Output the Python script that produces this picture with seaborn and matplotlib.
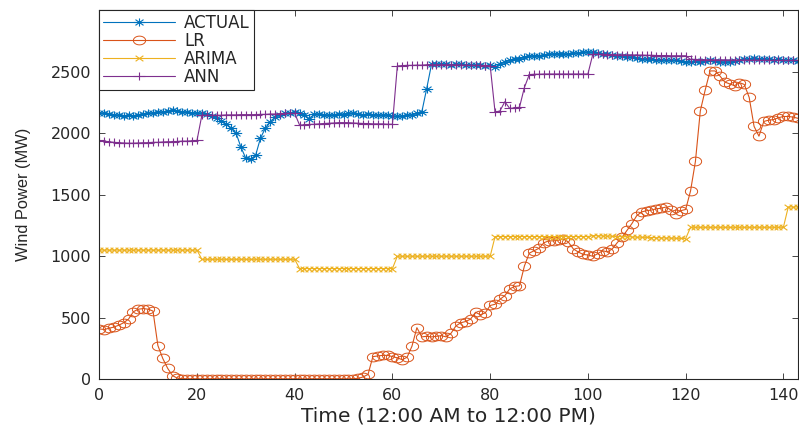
import numpy as np
import pandas as pd
import matplotlib
matplotlib.use("Agg")
import matplotlib.pyplot as plt
from matplotlib.path import Path
import seaborn as sns

# ---- data -------------------------------------------------------------
time_idx = list(range(144))

actual = [2165, 2160, 2155, 2150, 2145, 2140, 2145, 2140, 2150, 2155,
          2160, 2165, 2175, 2170, 2180, 2185, 2180, 2175, 2170, 2165,
          2165, 2160, 2155, 2140, 2120, 2100, 2075, 2040, 2000, 1885,
          1795, 1790, 1820, 1960, 2040, 2090, 2130, 2150, 2160, 2165,
          2170, 2160, 2150, 2115, 2155, 2155, 2150, 2145, 2150, 2155,
          2150, 2160, 2160, 2155, 2150, 2155, 2150, 2150, 2145, 2150,
          2140, 2135, 2140, 2145, 2150, 2160, 2170, 2360, 2560, 2560,
          2565, 2560, 2555, 2560, 2560, 2555, 2555, 2550, 2550, 2545,
          2550, 2535, 2560, 2580, 2590, 2600, 2605, 2615, 2625, 2630,
          2630, 2635, 2640, 2645, 2645, 2640, 2645, 2650, 2650, 2655,
          2660, 2655, 2650, 2645, 2640, 2635, 2630, 2625, 2620, 2615,
          2610, 2605, 2600, 2600, 2595, 2595, 2590, 2590, 2590, 2585,
          2580, 2580, 2585, 2580, 2585, 2590, 2585, 2580, 2575, 2580,
          2585, 2590, 2600, 2605, 2610, 2600, 2605, 2600, 2595, 2600,
          2595, 2590, 2590, 2585]

lr = [410, 405, 415, 425, 440, 460, 490, 550, 570, 575,
      570, 555, 275, 170, 90, 30, 10,
      6, 5, 5, 5, 4, 5, 5, 5, 5, 5,
      5, 5, 5, 4, 5, 5, 5, 5, 5, 5,
      5, 5, 5, 5, 5, 4, 5, 5, 5, 5,
      5, 5, 5, 5, 5, 6, 8,
      20, 40, 185, 190, 195, 195, 185, 175, 160, 180,
      270, 420, 345,
      350, 345, 350, 355, 345, 375, 435, 460, 470, 490,
      545, 525, 540, 600, 610, 650, 680, 735, 755, 760,
      920, 1025, 1045, 1065, 1110, 1125, 1125, 1130, 1140, 1115,
      1060, 1035, 1015, 1010, 1000, 1020, 1045, 1035, 1060, 1110,
      1155, 1210, 1265, 1330, 1360, 1370, 1375, 1385, 1390, 1400,
      1375, 1345, 1370, 1380,
      1530, 1770, 2180, 2350, 2505, 2505, 2465, 2415, 2400, 2385,
      2410, 2395, 2290, 2055, 1975, 2095, 2105, 2110, 2125, 2135,
      2135, 2130, 2120]

arima = [1050, 1050, 1050, 1050, 1050, 1050, 1050, 1050, 1050, 1050,
         1050, 1050, 1050, 1050, 1050, 1050, 1050, 1050, 1050, 1050,
         1050,
         975, 975, 975, 975, 975, 975, 975, 975, 975, 975,
         975, 975, 975, 975, 975, 975, 975, 975, 975, 975,
         900, 900, 900, 900, 900, 900, 900, 900, 900, 900,
         900, 900, 900, 900, 900, 900, 900, 900, 900, 900,
         1000, 1000, 1000, 1000, 1000, 1000, 1000, 1000, 1000, 1000,
         1000, 1000, 1000, 1000, 1000, 1000, 1000, 1000, 1000, 1000,
         1160, 1160, 1160, 1160, 1160, 1160, 1160, 1160, 1160, 1160,
         1160, 1160, 1160, 1160, 1160, 1160, 1160, 1160, 1160, 1160,
         1168, 1166, 1165, 1164, 1162, 1160, 1159, 1158, 1157, 1155,
         1154, 1153, 1152, 1150, 1149, 1148, 1147, 1146, 1145, 1143,
         1235, 1235, 1235, 1235, 1235, 1235, 1235, 1235, 1235, 1235,
         1235, 1235, 1235, 1235, 1235, 1235, 1235, 1235, 1235, 1235,
         1400, 1400, 1400]

ann = [1940, 1935, 1930, 1925, 1922, 1920, 1918, 1918, 1920, 1922,
       1922, 1925, 1925, 1928, 1930, 1930, 1932, 1935, 1935, 1938,
       1940,
       2145, 2145, 2145, 2145, 2145, 2148, 2148, 2148, 2150, 2150,
       2150, 2150, 2152, 2152, 2155, 2155, 2158, 2160, 2160, 2160,
       2065, 2068, 2070, 2072, 2075, 2078, 2080, 2082, 2085, 2085,
       2085, 2082, 2080, 2078, 2078, 2075, 2075, 2075, 2072, 2072,
       2545, 2548, 2550, 2550, 2552, 2552, 2555, 2555, 2555, 2555,
       2555, 2555, 2555, 2552, 2552, 2550, 2550, 2550, 2548, 2548,
       2170, 2180, 2255, 2200, 2205, 2210, 2370, 2475, 2478, 2478,
       2480, 2480, 2480, 2480, 2480, 2480, 2480, 2480, 2480, 2480,
       2640, 2640, 2640, 2638, 2638, 2636, 2636, 2635, 2635, 2634,
       2634, 2632, 2632, 2630, 2630, 2630, 2628, 2628, 2628, 2628,
       2598, 2598, 2596, 2596, 2595, 2595, 2595, 2594, 2594, 2594,
       2593, 2593, 2592, 2592, 2592, 2591, 2591, 2590, 2590, 2590,
       2590, 2590, 2590]

series_names = ["ACTUAL", "LR", "ARIMA", "ANN"]
series_values = [actual, lr, arima, ann]
x_ticks = [0, 20, 40, 60, 80, 100, 120, 140]
y_ticks = [0, 500, 1000, 1500, 2000, 2500]
x_label = "Time (12:00 AM to 12:00 PM)"
y_label = "Wind Power (MW)"

# ---- style ------------------------------------------------------------
sns.set_style("ticks", {
    "axes.edgecolor": "#262626",
    "xtick.direction": "in",
    "ytick.direction": "in",
    "xtick.color": "#262626",
    "ytick.color": "#262626",
})
plt.rcParams["font.family"] = ["DejaVu Sans"]

colors = ["#0072BD", "#D95319", "#EDB120", "#7E2F8E"]

# Horizontally widened marker shapes
SX = 1.4


def stroke_marker(segments):
    verts, codes = [], []
    for a, b in segments:
        verts += [a, b]
        codes += [Path.MOVETO, Path.LINETO]
    return Path(verts, codes)


def ellipse_marker(sx):
    t = np.linspace(0, 2 * np.pi, 73)
    v = np.column_stack([sx * np.cos(t), np.sin(t)])
    return Path(v, closed=True)


d = 0.7071
star_m = stroke_marker([((-SX, 0), (SX, 0)), ((0, -1), (0, 1)),
                        ((-SX * d, -d), (SX * d, d)), ((-SX * d, d), (SX * d, -d))])
circle_m = ellipse_marker(SX)
cross_m = stroke_marker([((-SX, -1), (SX, 1)), ((-SX, 1), (SX, -1))])
plus_m = stroke_marker([((-SX, 0), (SX, 0)), ((0, -1), (0, 1))])

markers = [star_m, circle_m, cross_m, plus_m]
msizes = [8.2, 8.8, 5.6, 8.6]
medges = [0.8, 0.7, 0.8, 0.8]

fig = plt.figure(figsize=(7.99, 4.28), dpi=100)
ax = fig.add_axes([0.1242, 0.1136, 0.8746, 0.8631])

for name, vals, col, mk, ms, mew in zip(series_names, series_values, colors,
                                       markers, msizes, medges):
    df = pd.DataFrame({"t": time_idx, "p": vals})
    sns.lineplot(data=df, x="t", y="p", ax=ax, color=col, linewidth=0.8,
                 marker=mk, markersize=ms, markeredgecolor=col,
                 markerfacecolor="none", markeredgewidth=mew,
                 label=name, sort=False, errorbar=None)

ax.set_xlim(0, 143)
ax.set_ylim(0, 3000)
ax.set_xticks(x_ticks)
ax.set_yticks(y_ticks)
ax.tick_params(axis="both", which="both", direction="in", top=True, right=True,
               length=4.5, width=0.6, labelsize=11.5, pad=6, labelcolor="#262626")
for s in ax.spines.values():
    s.set_linewidth(0.8)
    s.set_color("#262626")

ax.set_xlabel(x_label, fontsize=14.5, color="#262626", labelpad=3)
ax.set_ylabel(y_label, fontsize=11.8, color="#262626", labelpad=14,
              family=["Liberation Sans"])

leg = ax.legend(loc="upper left", bbox_to_anchor=(0, 1), borderaxespad=0,
                frameon=True, fancybox=False, framealpha=1, edgecolor="#262626",
                fontsize=12, handlelength=4.3, handletextpad=0.55,
                borderpad=0.25, labelspacing=0.0, numpoints=1)
leg.get_frame().set_linewidth(0.8)

fig.savefig("out.png", dpi=100)
